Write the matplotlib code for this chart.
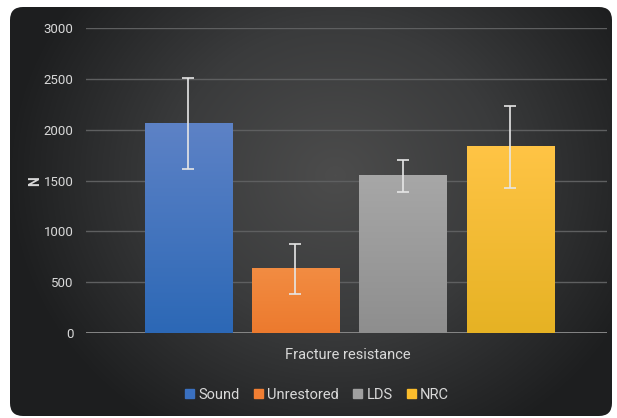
import numpy as np
import matplotlib.pyplot as plt
from matplotlib.patches import FancyBboxPatch
from matplotlib.colors import LinearSegmentedColormap

# data
groups = ["Sound", "Unrestored", "LDS", "NRC"]
means = [2060, 630, 1545, 1830]
sds = [445, 250, 155, 400]
category = "Fracture resistance"
yticks = [0, 500, 1000, 1500, 2000, 2500, 3000]

top_colors = ["#5d82c6", "#f28c42", "#a7a7a7", "#ffc445"]
bottom_colors = ["#2c68b6", "#ec7a2e", "#8e8e8e", "#e6b224"]
legend_colors = ["#3a70c0", "#f07e33", "#a0a0a0", "#fbbd2c"]

plt.rcParams['font.family'] = ['Roboto', 'DejaVu Sans']

W, H = 617, 418
fig = plt.figure(figsize=(W / 100, H / 100), dpi=100)
fig.patch.set_facecolor("white")

# background panel with radial gradient
bg = fig.add_axes([0, 0, 1, 1])
bg.set_xlim(0, W)
bg.set_ylim(H, 0)
bg.axis("off")
yy, xx = np.mgrid[0:H, 0:W]
r = np.sqrt(((xx - 335) / 330.0) ** 2 + ((yy - 175) / 300.0) ** 2)
r = np.clip(r, 0, 1)
bg_cmap = LinearSegmentedColormap.from_list("bg", ["#4c4c4c", "#3a3b3c", "#1d1e1f"])
img = bg.imshow(r, cmap=bg_cmap, extent=(0, W, H, 0), aspect="auto", vmin=0, vmax=1)
panel = FancyBboxPatch((10, 7), 602, 409, boxstyle="round,pad=0,rounding_size=13",
                       transform=bg.transData, facecolor="none", edgecolor="none")
bg.add_patch(panel)
img.set_clip_path(panel)

# chart axes
ax = fig.add_axes([86 / W, 1 - 333 / H, (607 - 86) / W, (333 - 28) / H])
ax.set_facecolor("none")
x = np.arange(len(groups))
bars = ax.bar(x, means, width=0.81, color="none", edgecolor="none", zorder=2)
for b, c0, c1 in zip(bars, top_colors, bottom_colors):
    cm = LinearSegmentedColormap.from_list("g", [c1, c0])
    grad = np.linspace(0, 1, 100).reshape(-1, 1)
    ax.imshow(grad, cmap=cm, origin="lower", aspect="auto", zorder=2,
              extent=(b.get_x(), b.get_x() + b.get_width(), 0, b.get_height()))
ax.errorbar(x, means, yerr=sds, fmt="none", ecolor="#e6e6e6", elinewidth=1.2,
            capsize=4, capthick=1.2, zorder=3)

ax.set_xlim(-0.95, 3.9)
ax.set_ylim(0, 3000)
ax.set_yticks(yticks)
ax.set_yticklabels([str(t) for t in yticks])
ax.yaxis.grid(True, color="#5e5f60", linewidth=1)
ax.set_axisbelow(True)
ax.axhline(0, color="#8c8c8c", linewidth=1.3, zorder=1)
for s in ax.spines.values():
    s.set_visible(False)
ax.tick_params(axis="y", length=0, colors="#d9d9d9", labelsize=9.5, pad=9)
ax.set_xticks([])

fig.text(35 / W, 1 - 181 / H, "N", color="#d9d9d9", fontsize=10, fontweight="bold",
         rotation=90, ha="center", va="center")

fig.text(348 / W, 1 - 355 / H, category, color="#d9d9d9", fontsize=10.5,
         ha="center", va="center")

handles = [plt.Rectangle((0, 0), 1, 1, color=c) for c in legend_colors]
leg = fig.legend(handles, groups, loc="center", bbox_to_anchor=(317 / W, 1 - 395 / H),
                 ncol=4, frameon=False, fontsize=10.5, handlelength=0.6, handleheight=0.6,
                 handletextpad=0.3, columnspacing=1.0)
for t in leg.get_texts():
    t.set_color("#d9d9d9")

fig.savefig("out.png", dpi=100)
